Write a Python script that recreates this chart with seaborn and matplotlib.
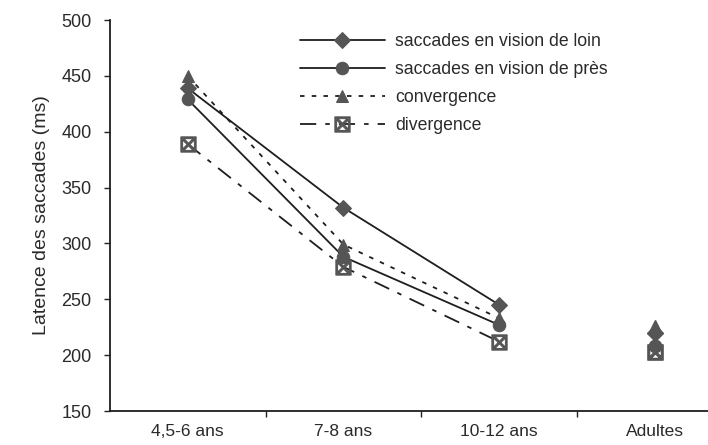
import numpy as np
import pandas as pd
import matplotlib
matplotlib.use("Agg")
import matplotlib.pyplot as plt
import seaborn as sns

groupes = ['4,5-6 ans', '7-8 ans', '10-12 ans', 'Adultes']
loin = [439, 332, 245, 220]
pres = [429, 288, 227, 208]
convergence = [450, 299, 233, 226]
divergence = [389, 279, 212, 203]
y_ticks = [150, 200, 250, 300, 350, 400, 450, 500]

series = [
    ('saccades en vision de loin', loin, 'D', '-'),
    ('saccades en vision de près', pres, 'o', '-'),
    ('convergence', convergence, '^', (0, (2.5, 4))),
    ('divergence', divergence, r'$\boxtimes$', (0, (9, 5, 2.5, 5))),
]

sns.set_style("ticks")
plt.rcParams['font.family'] = ['Liberation Sans', 'DejaVu Sans']

fig = plt.figure(figsize=(7.08, 4.45), dpi=100)
ax = fig.add_axes([0.155, 0.0764, 0.845, 0.8786])

line_col = '#1e1e1e'
mark_col = '#555555'
txt_col = '#2a2a2a'
fs = 13
x_pos = np.arange(len(groupes))

# lignes enfants + points adultes sans ligne
for name, vals, mk, ls in series:
    df = pd.DataFrame({'x': x_pos[:3], 'y': vals[:3]})
    ms = 11 if mk.startswith('$') else (8 if mk == 'D' else 9)
    sns.lineplot(data=df, x='x', y='y', ax=ax, color=line_col, linewidth=1.3,
                 linestyle=ls, marker=mk, markersize=ms, markerfacecolor=mark_col,
                 markeredgecolor=mark_col, label=name)
    ax.plot(x_pos[3], vals[3], marker=mk, markersize=ms, color=mark_col,
            linestyle='none')

ax.set_xlim(-0.5, 3.34)
ax.set_ylim(150, 500)
ax.set_yticks(y_ticks)
ax.set_xticks(x_pos)
ax.set_xticklabels(groupes)
ax.set_xticks([0.5, 1.5, 2.5], minor=True)
ax.tick_params(axis='x', which='major', length=0, pad=9, labelsize=12.5, colors=txt_col)
ax.tick_params(axis='x', which='minor', length=4, width=1, color='#222222')
ax.tick_params(axis='y', length=4, width=1, labelsize=fs, colors=txt_col, pad=9)
ax.tick_params(axis='y', color='#222222')
ax.set_xlabel('')
ax.set_ylabel('Latence des saccades (ms)', fontsize=14, color=txt_col, labelpad=8)
sns.despine(ax=ax)
for s in ['left', 'bottom']:
    ax.spines[s].set_linewidth(1.3)
    ax.spines[s].set_color('#1e1e1e')

leg = ax.legend(loc='upper left', bbox_to_anchor=(300 / 708, 1 - 33 / 445),
                bbox_transform=fig.transFigure, frameon=False, fontsize=12.7,
                handlelength=4.8, handletextpad=0.6, labelspacing=0.62,
                borderaxespad=0, borderpad=0)
for t in leg.get_texts():
    t.set_color(txt_col)

fig.savefig('out.png', dpi=100)
